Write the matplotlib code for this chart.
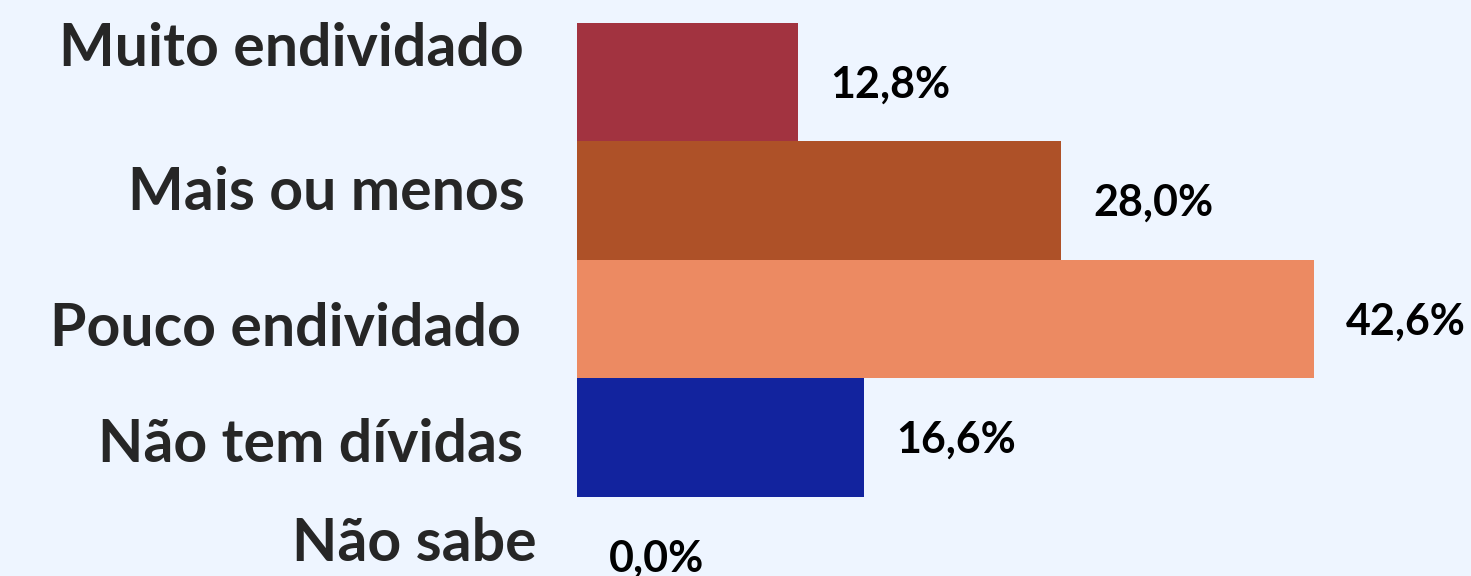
import matplotlib
matplotlib.use("Agg")
import matplotlib.pyplot as plt
import matplotlib.transforms as mt
from matplotlib.transforms import offset_copy

categories = ["Muito endividado", "Mais ou menos", "Pouco endividado", "Não tem dívidas", "Não sabe"]
values = [12.8, 28.0, 42.6, 16.6, 0.0]
value_labels = ["12,8%", "28,0%", "42,6%", "16,6%", "0,0%"]
colors = ["#A23340", "#AE5128", "#EC8A62", "#12239E", "#12239E"]

# layout tweaks (pixels): category label vertical / horizontal offsets
label_dy = [-33.5, -7.5, 9.5, 7.0, -12.0]
label_x = [524, 525, 521, 523, 537]

W, H, DPI = 1471, 576, 100
bg = "#EEF5FF"
plt.rcParams['font.family'] = ['Lato', 'DejaVu Sans']

fig = plt.figure(figsize=(W / DPI, H / DPI), dpi=DPI, facecolor=bg)
left_px = 577
ax = fig.add_axes([left_px / W, 0, 1 - left_px / W, 1])
ax.set_facecolor(bg)
px_per_unit = 17.3
ax.set_xlim(0, (W - left_px) / px_per_unit)
row_h = 118.5
first_c = 82
ax.set_ylim((H - first_c) / row_h, -first_c / row_h)

ypos = list(range(len(categories)))
ax.barh(ypos, values, height=1.0, color=colors, edgecolor="none")

for y, v, lab in zip(ypos, values, value_labels):
    tr = offset_copy(ax.transData, fig=fig, x=32 * 72 / DPI, y=-2.5 * 72 / DPI, units='points')
    ax.text(v, y, lab, transform=tr, ha='left', va='center',
            fontsize=31, fontweight='bold', color='black')

bt0 = mt.blended_transform_factory(fig.transFigure, ax.transData)
for y, cat, dy, lx in zip(ypos, categories, label_dy, label_x):
    bt = offset_copy(bt0, fig=fig, x=0, y=-dy * 72 / DPI, units='points')
    ax.text(lx / W, y, cat, transform=bt, ha='right', va='center',
            fontsize=42.5, fontweight='bold', color='#262626', clip_on=False)

ax.axis('off')
fig.savefig("out.png", dpi=DPI, facecolor=bg)
